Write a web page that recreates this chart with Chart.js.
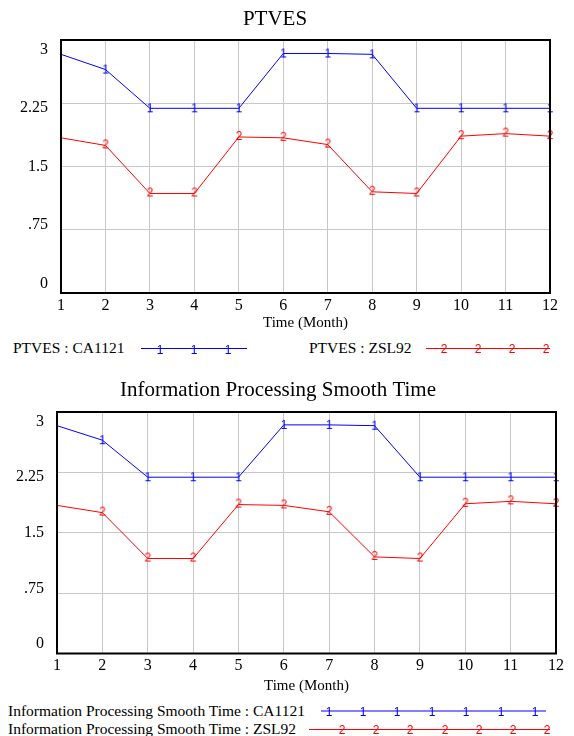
<!DOCTYPE html>
<html>
<head>
<meta charset="utf-8">
<script src="https://cdn.jsdelivr.net/npm/chart.js@4.4.0/dist/chart.umd.min.js"></script>
<style>
body { margin: 0; background: #fff; width: 574px; height: 736px; position: relative; overflow: hidden; font-family: "Liberation Serif", "Times New Roman", serif; }
.box { position: absolute; left: 0; width: 574px; }
.lg { position: absolute; font-size: 15.5px; line-height: 18px; white-space: nowrap; color: #000; }
#samples { position: absolute; left: 0; top: 0; }
</style>
</head>
<body>
<div class="box" style="top:0;height:332px"><canvas id="chart1"></canvas></div>
<div class="box" style="top:371px;height:324px"><canvas id="chart2"></canvas></div>

<div class="lg" style="left:13px;top:339px">PTVES : CA1121</div>
<div class="lg" style="left:309px;top:339px">PTVES : ZSL92</div>
<div class="lg" style="left:8px;top:702px">Information Processing Smooth Time : CA1121</div>
<div class="lg" style="left:8px;top:720px">Information Processing Smooth Time : ZSL92</div>
<svg id="samples" width="574" height="736"></svg>

<script>
// months on the time axis
const months = ['1', '2', '3', '4', '5', '6', '7', '8', '9', '10', '11', '12'];

// PTVES
const ptvesCA1121 = [2.83, 2.65, 2.19, 2.19, 2.19, 2.84, 2.84, 2.83, 2.19, 2.19, 2.19, 2.19];
const ptvesZSL92 = [1.84, 1.75, 1.18, 1.18, 1.85, 1.84, 1.76, 1.20, 1.18, 1.86, 1.89, 1.86];

// Information Processing Smooth Time
const ipstCA1121 = [2.83, 2.65, 2.19, 2.19, 2.19, 2.84, 2.84, 2.83, 2.19, 2.19, 2.19, 2.19];
const ipstZSL92 = [1.84, 1.75, 1.18, 1.18, 1.85, 1.84, 1.76, 1.20, 1.18, 1.86, 1.89, 1.86];

// y axis ticks
const yTickValues = [0, 0.75, 1.5, 2.25, 3];
const yTickLabels = ['0', '.75', '1.5', '2.25', '3'];

const BLUE = '#0000ff';
const RED = '#ff0000';
const GRID = '#c8c8c8';
const SERIF = '"Liberation Serif", "Times New Roman", serif';
const SANS = '"Liberation Sans", Arial, sans-serif';

Chart.defaults.color = '#000';
Chart.defaults.font.family = SERIF;

// small number glyph used as point marker
function glyph(ch, color, dy) {
    const c = document.createElement('canvas');
    c.width = 14;
    c.height = 16;
    const g = c.getContext('2d');
    g.fillStyle = color;
    g.font = '12px ' + SANS;
    g.textAlign = 'center';
    g.textBaseline = 'middle';
    g.fillText(ch, 7, 8 + dy);
    return c;
}
const glyph1 = glyph('1', BLUE, 1);
const glyph2 = glyph('2', RED, 0);

// black frame round the plot
const frame = {
    id: 'frame',
    afterDraw(chart) {
        const { ctx, chartArea: a } = chart;
        ctx.save();
        ctx.strokeStyle = '#000';
        ctx.lineWidth = 2;
        ctx.strokeRect(a.left, a.top, a.right - a.left, a.bottom - a.top);
        ctx.restore();
    }
};

// y labels, nudged inward like the original tool does
const yLabels = {
    id: 'yLabels',
    afterDraw(chart) {
        const { ctx, chartArea: a, scales } = chart;
        ctx.save();
        ctx.fillStyle = '#000';
        ctx.font = '16px ' + SERIF;
        ctx.textAlign = 'right';
        ctx.textBaseline = 'middle';
        yTickValues.forEach((v, i) => {
            const y = scales.y.getPixelForValue(v) + (v - 1.5) / 1.5 * 9.5;
            ctx.fillText(yTickLabels[i], a.left - 13, y);
        });
        ctx.restore();
    }
};

function makeChart(id, title, ca, zsl, opt) {
    const ctx = document.getElementById(id).getContext('2d');
    return new Chart(ctx, {
        type: 'line',
        data: {
            labels: months,
            datasets: [{
                label: 'CA1121',
                data: ca,
                borderColor: BLUE,
                borderWidth: 1,
                pointStyle: glyph1,
                pointRadius: c => c.dataIndex === 0 ? 0 : 4,
                tension: 0
            },
            {
                label: 'ZSL92',
                data: zsl,
                borderColor: RED,
                borderWidth: 1,
                pointStyle: glyph2,
                pointRadius: c => c.dataIndex === 0 ? 0 : 4,
                tension: 0
            }]
        },
        options: {
            responsive: true,
            maintainAspectRatio: false,
            animation: false,
            layout: { padding: { left: 0, right: opt.right, top: 0, bottom: 0 } },
            plugins: {
                legend: { display: false },
                tooltip: { enabled: false },
                title: {
                    display: true,
                    text: title,
                    font: { size: 21, weight: 'normal', family: SERIF },
                    color: '#000',
                    padding: { top: opt.titleTop, bottom: opt.titleBottom }
                }
            },
            scales: {
                x: {
                    grid: { color: GRID, drawTicks: false },
                    border: { display: false },
                    ticks: { padding: 3, font: { size: 16 }, color: '#000', maxRotation: 0, autoSkip: false },
                    title: { display: true, text: 'Time (Month)', font: { size: 15 }, color: '#000', padding: 0 },
                    afterFit: s => { s.height = opt.xHeight; }
                },
                y: {
                    min: 0,
                    max: 3,
                    ticks: { display: false, stepSize: 0.75 },
                    grid: { color: GRID, drawTicks: false },
                    border: { display: false },
                    afterFit: s => { s.width = opt.left; }
                }
            }
        },
        plugins: [frame, yLabels]
    });
}

makeChart('chart1', 'PTVES', ptvesCA1121, ptvesZSL92,
    { left: 61, right: 24, titleTop: 6.5, titleBottom: 8.3, xHeight: 39 });
makeChart('chart2', 'Information Processing Smooth Time', ipstCA1121, ipstZSL92,
    { left: 57, right: 18, titleTop: 7, titleBottom: 8.8, xHeight: 41.5 });

// legend line samples
const svg = document.getElementById('samples');
const NS = 'http://www.w3.org/2000/svg';
function sample(x1, x2, y, color, ch, marks) {
    const ln = document.createElementNS(NS, 'line');
    ln.setAttribute('x1', x1); ln.setAttribute('x2', x2);
    ln.setAttribute('y1', y); ln.setAttribute('y2', y);
    ln.setAttribute('stroke', color); ln.setAttribute('stroke-width', 1);
    svg.appendChild(ln);
    marks.forEach(mx => {
        const t = document.createElementNS(NS, 'text');
        t.setAttribute('x', mx);
        t.setAttribute('y', y + (ch === '1' ? 1 : 0));
        t.setAttribute('fill', color);
        t.setAttribute('font-size', '12');
        t.setAttribute('font-family', 'Liberation Sans, Arial, sans-serif');
        t.setAttribute('text-anchor', 'middle');
        t.setAttribute('dominant-baseline', 'central');
        t.textContent = ch;
        svg.appendChild(t);
    });
}
sample(141, 247, 348.5, BLUE, '1', [160, 194, 228]);
sample(426, 550, 348.5, RED, '2', [444, 478, 512, 546]);
sample(321, 546, 711, BLUE, '1', [329, 363, 397, 432, 466, 501, 535]);
sample(309, 550, 729.5, RED, '2', [342, 376, 410, 445, 479, 513, 547]);
</script>
</body>
</html>
